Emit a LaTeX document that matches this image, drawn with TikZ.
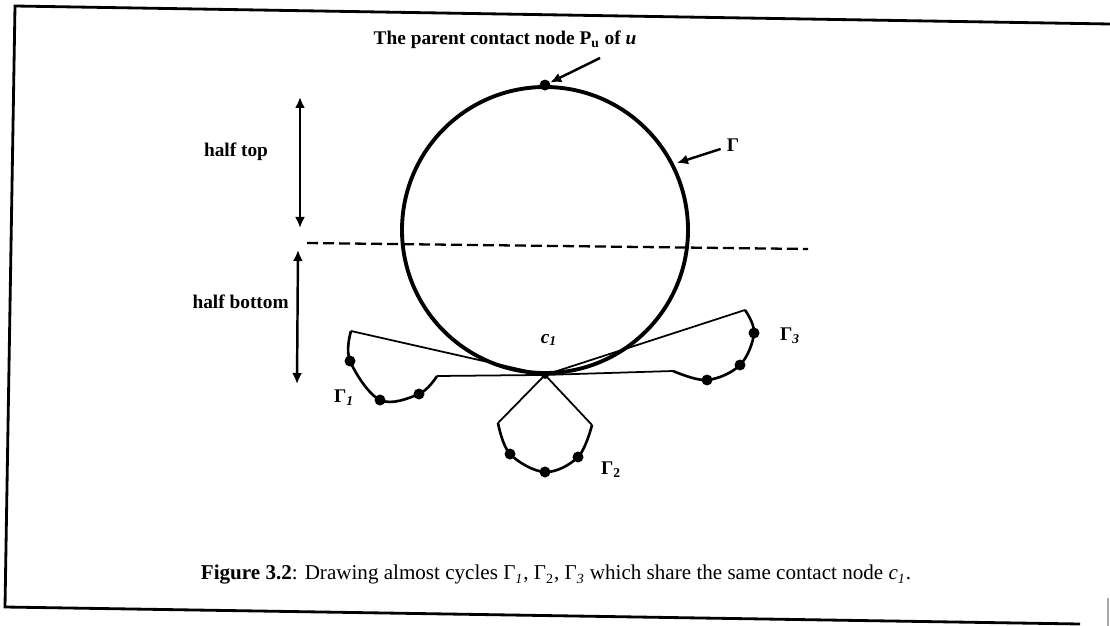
\documentclass[tikz,border=0pt]{standalone}
\usepackage{fontspec}
\setmainfont{Liberation Serif}
\usetikzlibrary{arrows.meta,positioning,calc}

\begin{document}
\begin{tikzpicture}[x=0.2mm, y=-0.2mm,
        every node/.style={font=\fontsize{11}{13}\selectfont\bfseries},
        dotnode/.style={circle, fill, inner sep=0pt, minimum size=2.2mm},
        legline/.style={line width=1pt},
        loopline/.style={line width=1.5pt},
        dimarrow/.style={line width=1.4pt, {Latex[length=2.2mm,width=2mm]}-{Latex[length=2.2mm,width=2mm]}},
        ptr/.style={line width=1.4pt, -{Latex[length=2.2mm,width=2mm]}}]
    \useasboundingbox (0,0) rectangle (1110,626);

    % frame
    \draw[line width=1.6pt] (1080,624) -- (5,607) -- (15,6) -- (1110,24);
    \draw[line width=0.8pt, black!35] (1108,598) -- (1108,626);

    % the cycle and its two nodes
    \node[circle, draw, line width=2.2pt, inner sep=0pt, minimum size=57.2mm] (gam) at (545,230) {};
    \node[dotnode] (pu) at (gam.north) {};
    \node[dotnode, minimum size=1.6mm] (c1) at (gam.south) {};

    % split line
    \coordinate (splitL) at (307,243);
    \coordinate (splitR) at (808,249);
    \draw[line width=1.3pt, dash pattern=on 2.2mm off 1mm] (splitL) -- (splitR);

    % half top / half bottom
    \coordinate (topA) at (300,97);
    \coordinate (topB) at (300,228);
    \coordinate (botA) at (298,250);
    \coordinate (botB) at (297,384);
    \draw[dimarrow] (topA) -- (topB);
    \draw[dimarrow] (botA) -- (botB);
    \node (htop) at (236,152) {half top};
    \node[anchor=east, inner sep=0pt] (hbot) at (289,302) {half bottom};

    % pointers
    \node (pulabel) at (505,40) {The parent contact node P\textsubscript{u} of \textit{u}};
    \coordinate (putail) at (600,58);
    \draw[ptr] (putail) -- (pu);
    \node (gamlabel) at (733,145) {Γ};
    \coordinate (gamtip) at (677,163);
    \draw[ptr] (gamlabel) -- (gamtip);

    % Gamma_1
    \coordinate (g1a) at (351,331);
    \node[dotnode] (g1d1) at (350,361) {};
    \node[dotnode] (g1d2) at (380,400) {};
    \node[dotnode] (g1d3) at (419,394) {};
    \coordinate (g1b) at (437,376);
    \draw[legline] (c1.center) -- (g1a);
    \draw[loopline] plot[smooth, tension=0.6] coordinates {(g1a) (g1d1.center) (g1d2.center) (g1d3.center) (g1b)};
    \draw[legline] (g1b) -- (c1.center);

    % Gamma_2
    \coordinate (g2a) at (498,423);
    \node[dotnode] (g2d1) at (510,454) {};
    \node[dotnode] (g2d2) at (545,472) {};
    \node[dotnode] (g2d3) at (578,457) {};
    \coordinate (g2b) at (592,425);
    \draw[legline] (c1.center) -- (g2a);
    \draw[loopline] plot[smooth, tension=0.6] coordinates {(g2a) (g2d1.center) (g2d2.center) (g2d3.center) (g2b)};
    \draw[legline] (g2b) -- (c1.center);

    % Gamma_3
    \coordinate (g3a) at (745,310);
    \node[dotnode] (g3d1) at (754,333) {};
    \node[dotnode] (g3d2) at (740,365) {};
    \node[dotnode] (g3d3) at (707,380) {};
    \coordinate (g3b) at (673,371);
    \draw[legline] (c1.center) -- (g3a);
    \draw[loopline] plot[smooth, tension=0.6] coordinates {(g3a) (g3d1.center) (g3d2.center) (g3d3.center) (g3b)};
    \draw[legline] (g3b) -- (c1.center);

    % labels
    \node (c1label) at (549,340) {\itshape c\textsubscript{1}};
    \node (g1label) at (344,398) {Γ\textsubscript{\itshape 1}};
    \node (g2label) at (611,470) {Γ\textsubscript{2}};
    \node (g3label) at (790,336) {Γ\textsubscript{\itshape 3}};

    % caption
    \node[font=\fontsize{12}{14}\selectfont] (caption) at (556,575)
        {\textbf{Figure 3.2}: Drawing almost cycles Γ\textsubscript{\itshape 1}, Γ\textsubscript{2}, Γ\textsubscript{\itshape 3} which share the same contact node \textit{c}\textsubscript{\itshape 1}.};
\end{tikzpicture}
\end{document}
